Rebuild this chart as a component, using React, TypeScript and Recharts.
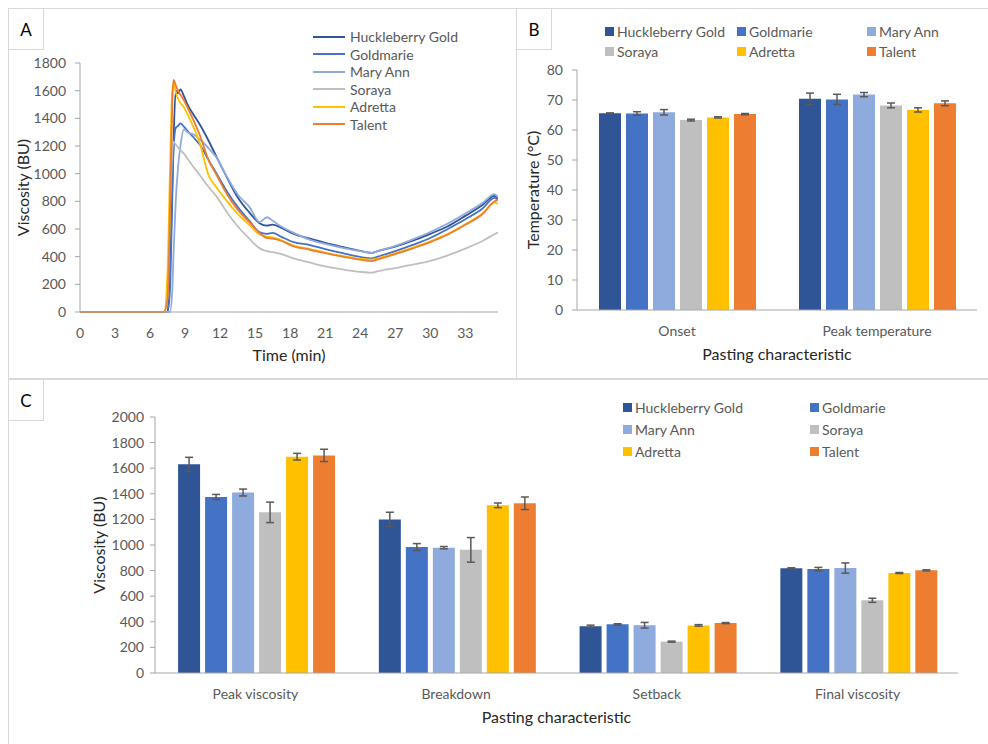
import React from 'react';
import { LineChart, Line, BarChart, Bar, XAxis, YAxis, Legend, ErrorBar } from 'recharts';

const FONT = 'Lato, "Open Sans", sans-serif';
const TICK = { fill: '#595959', fontSize: 14, fontFamily: FONT };
const TITLE = { fill: '#262626', fontSize: 16, fontFamily: FONT, textAnchor: 'middle' as const };
const AXIS = '#a6a6a6';

const cultivars = ['Huckleberry Gold', 'Goldmarie', 'Mary Ann', 'Soraya', 'Adretta', 'Talent'];
const colors = ['#2F5597', '#4472C4', '#8FAADC', '#BFBFBF', '#FFC000', '#ED7D31'];

// panel A: viscosity curves (BU) against time (min)
const time = [0, 7.2, 7.5, 7.7, 7.9, 8.0, 8.2, 8.4, 8.6, 8.9, 9.2, 9.7, 10.3, 11.0, 11.7, 12.6, 13.5, 14.5, 15.4, 16.0, 16.5, 17.2, 18.3, 19.7, 21, 22.5, 24, 25, 25.5, 27, 28.5, 30, 31.5, 33, 34.5, 35.5, 35.8];
const hgCurve = [0, 0, 0, 300, 900, 1200, 1600, 1580, 1610, 1560, 1500, 1430, 1350, 1240, 1120, 970, 830, 720, 640, 625, 632, 610, 565, 530, 500, 470, 442, 428, 440, 472, 515, 565, 620, 695, 775, 840, 815];
const goldmarieCurve = [0, 0, 0, 150, 800, 1150, 1330, 1345, 1363, 1340, 1310, 1265, 1205, 1100, 1000, 870, 760, 660, 575, 565, 572, 545, 505, 484, 455, 425, 398, 388, 400, 440, 485, 535, 600, 670, 750, 825, 810];
const maryAnnCurve = [0, 0, 0, 0, 150, 400, 800, 1050, 1200, 1320, 1300, 1285, 1245, 1185, 1115, 975, 850, 760, 650, 685, 660, 620, 572, 522, 492, 463, 440, 428, 440, 478, 525, 578, 640, 712, 790, 852, 830];
const sorayaCurve = [0, 0, 100, 700, 1150, 1232, 1210, 1190, 1170, 1145, 1110, 1050, 985, 905, 834, 720, 620, 530, 460, 440, 432, 420, 388, 357, 330, 308, 290, 284, 295, 318, 342, 370, 410, 458, 515, 562, 575];
const adrettaCurve = [0, 0, 300, 1000, 1600, 1655, 1590, 1540, 1510, 1480, 1430, 1340, 1210, 990, 900, 800, 710, 630, 560, 545, 540, 520, 480, 455, 430, 405, 385, 378, 388, 425, 465, 510, 565, 635, 715, 790, 780];
const talentCurve = [0, 0, 100, 700, 1500, 1677, 1640, 1600, 1570, 1530, 1480, 1390, 1270, 1100, 990, 850, 740, 650, 570, 535, 530, 515, 475, 450, 425, 400, 378, 368, 380, 418, 460, 505, 560, 630, 710, 800, 810];
const timeTicks = [0, 3, 6, 9, 12, 15, 18, 21, 24, 27, 30, 33];
const viscTicksA = [0, 200, 400, 600, 800, 1000, 1200, 1400, 1600, 1800];

// panel B: temperatures (°C)
const tempCategories = ['Onset', 'Peak temperature'];
const onsetTemp = [65.6, 65.5, 65.9, 63.3, 64.2, 65.3];
const onsetTempErr = [0.1, 0.6, 0.9, 0.3, 0.2, 0.2];
const peakTemp = [70.4, 70.2, 71.8, 68.2, 66.7, 68.9];
const peakTempErr = [1.9, 1.7, 0.7, 0.8, 0.7, 0.8];
const tempTicks = [0, 10, 20, 30, 40, 50, 60, 70, 80];

// panel C: viscosity parameters (BU)
const viscCategories = ['Peak viscosity', 'Breakdown', 'Setback', 'Final viscosity'];
const peakVisc = [1630, 1375, 1410, 1255, 1690, 1700];
const peakViscErr = [55, 20, 27, 80, 26, 48];
const breakdown = [1200, 984, 979, 962, 1310, 1326];
const breakdownErr = [56, 27, 9, 96, 18, 49];
const setback = [365, 380, 373, 245, 372, 390];
const setbackErr = [9, 5, 22, 4, 6, 4];
const finalVisc = [818, 812, 820, 568, 781, 802];
const finalViscErr = [4, 13, 40, 16, 4, 4];
const viscTicksC = [0, 200, 400, 600, 800, 1000, 1200, 1400, 1600, 1800, 2000];

const curves = [hgCurve, goldmarieCurve, maryAnnCurve, sorayaCurve, adrettaCurve, talentCurve];
const lineRows = time.map((t, i) => {
  const row: Record<string, number> = { t };
  curves.forEach((c, k) => (row['s' + k] = c[i]));
  return row;
});

const makeRows = (names: string[], means: number[][], errs: number[][]) =>
  names.map((name, j) => {
    const row: Record<string, any> = { name };
    cultivars.forEach((_, k) => {
      row['v' + k] = means[j][k];
      row['e' + k] = errs[j][k];
    });
    return row;
  });

const tempRows = makeRows(tempCategories, [onsetTemp, peakTemp], [onsetTempErr, peakTempErr]);
const viscRows = makeRows(
  viscCategories,
  [peakVisc, breakdown, setback, finalVisc],
  [peakViscErr, breakdownErr, setbackErr, finalViscErr]
);

const legendText = { fontFamily: FONT, fontSize: 14, color: '#595959', whiteSpace: 'nowrap' as const };

const LineLegend = () => (
  <div style={legendText}>
    {cultivars.map((c, i) => (
      <div key={c} style={{ display: 'flex', alignItems: 'center', height: 17.5 }}>
        <span style={{ display: 'inline-block', width: 32, height: 2, background: colors[i], marginRight: 5 }} />
        <span>{c}</span>
      </div>
    ))}
  </div>
);

// grid legend with squares; cols = x offsets, rowH = row height
const gridLegend = (cols: number[], perRow: number, rowH: number) => () => (
  <div style={{ ...legendText, position: 'relative', width: 400, height: rowH * Math.ceil(cultivars.length / perRow) }}>
    {cultivars.map((c, i) => (
      <div
        key={c}
        style={{
          position: 'absolute',
          left: cols[i % perRow],
          top: Math.floor(i / perRow) * rowH,
          height: rowH,
          display: 'flex',
          alignItems: 'center',
        }}
      >
        <span style={{ display: 'inline-block', width: 9, height: 9, background: colors[i], marginRight: 3 }} />
        <span>{c}</span>
      </div>
    ))}
  </div>
);

const Panel = ({ left, top, width, height, tag }: any) => (
  <div style={{ position: 'absolute', left, top, width, height, border: '1px solid #d9d9d9', boxSizing: 'border-box' }}>
    <div
      style={{
        position: 'absolute',
        left: -1,
        top: -1,
        width: 36,
        height: 42,
        border: '1px solid #d9d9d9',
        boxSizing: 'border-box',
        fontFamily: FONT,
        fontSize: 17,
        color: '#000',
        display: 'flex',
        alignItems: 'center',
        justifyContent: 'center',
        background: '#fff',
      }}
    >
      {tag}
    </div>
  </div>
);

export default function App() {
  return (
    <div style={{ position: 'absolute', left: 0, top: 0, width: 988, height: 744, overflow: 'hidden', background: '#fff' }}>
      <Panel left={8} top={8} width={509} height={371} tag="A" />
      <Panel left={516} top={8} width={480} height={371} tag="B" />
      <Panel left={8} top={379} width={990} height={380} tag="C" />

      <div style={{ position: 'absolute', left: 8, top: 8 }}>
        <LineChart width={506} height={370} data={lineRows} margin={{ top: 55, right: 16, bottom: 12, left: 0 }}>
          <XAxis
            type="number"
            dataKey="t"
            domain={[0, 35.8]}
            ticks={timeTicks}
            allowDataOverflow
            height={54}
            tickLine={false}
            tickMargin={10}
            stroke={AXIS}
            tick={TICK}
            label={{ value: 'Time (min)', position: 'insideBottom', offset: 5, style: TITLE }}
          />
          <YAxis
            domain={[0, 1800]}
            ticks={viscTicksA}
            width={72}
            tickSize={5}
            tickMargin={9}
            stroke={AXIS}
            tick={TICK}
            label={{ value: 'Viscosity (BU)', angle: -90, position: 'insideLeft', offset: 15, style: TITLE }}
          />
          {cultivars.map((c, k) => (
            <Line
              key={c}
              dataKey={'s' + k}
              name={c}
              type="monotone"
              stroke={colors[k]}
              strokeWidth={1.8}
              dot={false}
              isAnimationActive={false}
            />
          ))}
          <Legend
            content={LineLegend}
            layout="vertical"
            align="center"
            verticalAlign="middle"
            wrapperStyle={{ left: 305, top: 20, width: 200 }}
          />
        </LineChart>
      </div>

      <div style={{ position: 'absolute', left: 516, top: 8 }}>
        <BarChart
          width={472}
          height={370}
          data={tempRows}
          margin={{ top: 62, right: 11, bottom: 8, left: 0 }}
          barCategoryGap="11%"
          barGap={5}
        >
          <XAxis
            dataKey="name"
            height={60}
            tickLine={false}
            tickMargin={10}
            stroke={AXIS}
            tick={TICK}
            label={{ value: 'Pasting characteristic', position: 'insideBottom', offset: 10, style: TITLE }}
          />
          <YAxis
            domain={[0, 80]}
            ticks={tempTicks}
            width={61}
            tickSize={5}
            tickMargin={9}
            stroke={AXIS}
            tick={TICK}
            label={{ value: 'Temperature (°C)', angle: -90, position: 'insideLeft', offset: 17, style: TITLE }}
          />
          {cultivars.map((c, k) => (
            <Bar key={c} dataKey={'v' + k} name={c} fill={colors[k]} isAnimationActive={false}>
              <ErrorBar dataKey={'e' + k} width={4} stroke="#595959" strokeWidth={1.5} isAnimationActive={false} />
            </Bar>
          ))}
          <Legend
            content={gridLegend([0, 132, 262], 3, 20)}
            layout="vertical"
            align="center"
            verticalAlign="middle"
            wrapperStyle={{ left: 89, top: 13, width: 400 }}
          />
        </BarChart>
      </div>

      <div style={{ position: 'absolute', left: 8, top: 380 }}>
        <BarChart
          width={980}
          height={364}
          data={viscRows}
          margin={{ top: 37, right: 30, bottom: 16, left: 0 }}
          barCategoryGap="11.5%"
          barGap={5}
        >
          <XAxis
            dataKey="name"
            height={55}
            tickLine={false}
            tickMargin={10}
            stroke={AXIS}
            tick={TICK}
            label={{ value: 'Pasting characteristic', position: 'insideBottom', offset: 5, style: TITLE }}
          />
          <YAxis
            domain={[0, 2000]}
            ticks={viscTicksC}
            width={147}
            tickSize={5}
            tickMargin={6}
            stroke={AXIS}
            tick={TICK}
            label={{ value: 'Viscosity (BU)', angle: -90, position: 'insideLeft', offset: 91, style: TITLE }}
          />
          {cultivars.map((c, k) => (
            <Bar key={c} dataKey={'v' + k} name={c} fill={colors[k]} isAnimationActive={false}>
              <ErrorBar dataKey={'e' + k} width={4} stroke="#595959" strokeWidth={1.5} isAnimationActive={false} />
            </Bar>
          ))}
          <Legend
            content={gridLegend([0, 187], 2, 22)}
            layout="vertical"
            align="center"
            verticalAlign="middle"
            wrapperStyle={{ left: 615, top: 16, width: 400 }}
          />
        </BarChart>
      </div>
    </div>
  );
}
